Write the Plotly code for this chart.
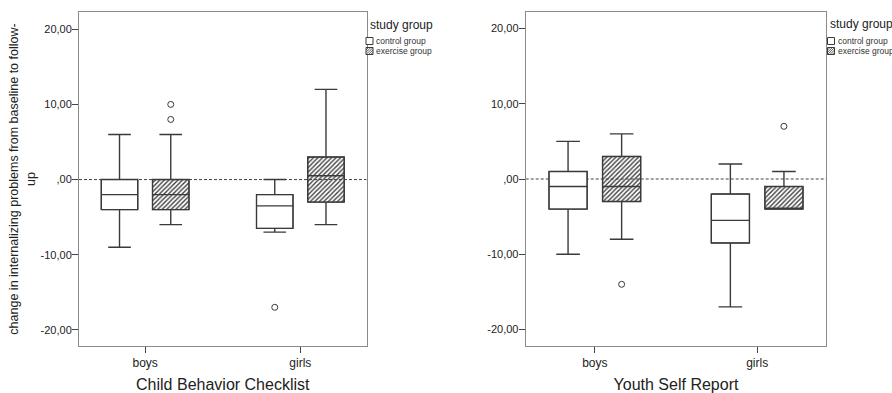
import plotly.graph_objects as go

# ---------------- data ----------------
groups = ["boys", "girls"]
study_groups = ["control group", "exercise group"]
legend_title = "study group"

# Child Behavior Checklist
cbcl_ctrl_lower = [-9, -7]
cbcl_ctrl_q1 = [-4, -6.5]
cbcl_ctrl_median = [-2, -3.5]
cbcl_ctrl_q3 = [0, -2]
cbcl_ctrl_upper = [6, 0]
cbcl_ctrl_out_group = ["girls"]
cbcl_ctrl_out_value = [-17]

cbcl_ex_lower = [-6, -6]
cbcl_ex_q1 = [-4, -3]
cbcl_ex_median = [-2, 0.5]
cbcl_ex_q3 = [0, 3]
cbcl_ex_upper = [6, 12]
cbcl_ex_out_group = ["boys", "boys"]
cbcl_ex_out_value = [10, 8]

# Youth Self Report
ysr_ctrl_lower = [-10, -17]
ysr_ctrl_q1 = [-4, -8.5]
ysr_ctrl_median = [-1, -5.5]
ysr_ctrl_q3 = [1, -2]
ysr_ctrl_upper = [5, 2]
ysr_ctrl_out_group = []
ysr_ctrl_out_value = []

ysr_ex_lower = [-8, -4]
ysr_ex_q1 = [-3, -4]
ysr_ex_median = [-1, -4]
ysr_ex_q3 = [3, -1]
ysr_ex_upper = [6, 1]
ysr_ex_out_group = ["boys", "girls"]
ysr_ex_out_value = [-14, 7]

y_tick_values = [-20, -10, 0, 10, 20]
y_tick_labels = ["-20,00", "-10,00", ",00", "10,00", "20,00"]

panel_titles = ["Child Behavior Checklist", "Youth Self Report"]
y_title = "change in internalizing problems from baseline to follow-<br>up"

# ---------------- styling ----------------
FONT = "Liberation Sans, Arial, sans-serif"
LINE = "#3a3a3a"
FRAME = "#8a8a8a"
TICK = "#444444"
OFFSET = 0.165
BOXW = 0.235
W, H = 892, 393
MT, MB = 12, 47


def pos(cat_list, shift):
    return [groups.index(c) + shift for c in cat_list]


def px_x(px):
    return px / W


def px_y(py):
    return (H - MB - py) / (H - MT - MB)


fig = go.Figure()

panels = [
    dict(ctrl=(cbcl_ctrl_lower, cbcl_ctrl_q1, cbcl_ctrl_median, cbcl_ctrl_q3, cbcl_ctrl_upper,
               cbcl_ctrl_out_group, cbcl_ctrl_out_value),
         ex=(cbcl_ex_lower, cbcl_ex_q1, cbcl_ex_median, cbcl_ex_q3, cbcl_ex_upper,
             cbcl_ex_out_group, cbcl_ex_out_value),
         xa="x", ya="y"),
    dict(ctrl=(ysr_ctrl_lower, ysr_ctrl_q1, ysr_ctrl_median, ysr_ctrl_q3, ysr_ctrl_upper,
               ysr_ctrl_out_group, ysr_ctrl_out_value),
         ex=(ysr_ex_lower, ysr_ex_q1, ysr_ex_median, ysr_ex_q3, ysr_ex_upper,
             ysr_ex_out_group, ysr_ex_out_value),
         xa="x2", ya="y2"),
]

for p in panels:
    for key, shift, name in [("ctrl", -OFFSET, study_groups[0]), ("ex", OFFSET, study_groups[1])]:
        lower, q1, med, q3, upper, og, ov = p[key]
        xs = pos(groups, shift)
        if key == "ctrl":
            marker = dict(color="white", line=dict(color=LINE, width=1))
        else:
            marker = dict(color=LINE, line=dict(color=LINE, width=1),
                          pattern=dict(shape="/", fgcolor=LINE, bgcolor="rgba(0,0,0,0)",
                                       size=3.2, solidity=0.42, fillmode="replace"))
        # box body fill
        fig.add_trace(go.Bar(
            x=xs, y=[b - a for a, b in zip(q1, q3)], base=q1, width=BOXW,
            marker=marker, name=name, showlegend=False,
            xaxis=p["xa"], yaxis=p["ya"], hoverinfo="skip"))
        # box outline, whiskers, median
        fig.add_trace(go.Box(
            x=xs, q1=q1, median=med, q3=q3, lowerfence=lower, upperfence=upper,
            width=BOXW, whiskerwidth=0.62, fillcolor="rgba(0,0,0,0)",
            line=dict(color=LINE, width=1.4), boxpoints=False, showlegend=False,
            xaxis=p["xa"], yaxis=p["ya"], name=name))
        # outliers
        if og:
            fig.add_trace(go.Scatter(
                x=pos(og, shift), y=ov, mode="markers", showlegend=False, name=name,
                marker=dict(symbol="circle-open", size=6, color=LINE, line=dict(width=1)),
                xaxis=p["xa"], yaxis=p["ya"]))

axis_common = dict(showline=True, mirror=True, linecolor=FRAME, linewidth=1,
                   ticks="outside", tickcolor=TICK, ticklen=6, showgrid=False,
                   zeroline=False)

xcommon = dict(axis_common, tickvals=[0, 1], ticktext=groups, range=[-0.426, 1.426],
               tickfont=dict(family=FONT, size=12, color="#222"))
ycommon = dict(axis_common, tickvals=y_tick_values, ticktext=y_tick_labels,
               tickfont=dict(family=FONT, size=11, color="#222"), ticklabelstandoff=-2)

# ---------- manual legends (SPSS style, compact) ----------
shapes = [
    dict(type="line", xref="x domain", yref="y", x0=0, x1=1, y0=0, y1=0,
         line=dict(color="#444", width=1, dash="3px,2px"), layer="below"),
    dict(type="line", xref="x2 domain", yref="y2", x0=0, x1=1, y0=0, y1=0,
         line=dict(color="#444", width=1, dash="3px,2px"), layer="below"),
]
annotations = []

legend_specs = [
    dict(title_x=368, title_y=25, sq_x=366, text_x=374),
    dict(title_x=828, title_y=24, sq_x=827.5, text_x=836),
]
ROW_Y = [37.5, 47.5]
SQ = 7

for spec in legend_specs:
    annotations.append(dict(
        text=legend_title, xref="paper", yref="paper", x=px_x(spec["title_x"]),
        y=px_y(spec["title_y"]), xanchor="left", yanchor="middle", showarrow=False,
        font=dict(family=FONT, size=12, color="#222")))
    for i, name in enumerate(study_groups):
        x0 = spec["sq_x"]
        y0 = ROW_Y[i]
        shapes.append(dict(type="rect", xref="paper", yref="paper",
                           x0=px_x(x0), x1=px_x(x0 + SQ), y0=px_y(y0 + SQ), y1=px_y(y0),
                           line=dict(color=LINE, width=1), fillcolor="white"))
        if i == 1:
            step = 2.3
            d = -SQ + step
            while d < SQ:
                u1 = max(0, -d)
                u2 = min(SQ, SQ - d)
                shapes.append(dict(type="line", xref="paper", yref="paper",
                                   x0=px_x(x0 + u1), y0=px_y(y0 + SQ - (u1 + d)),
                                   x1=px_x(x0 + u2), y1=px_y(y0 + SQ - (u2 + d)),
                                   line=dict(color=LINE, width=0.8)))
                d += step
        annotations.append(dict(
            text=name, xref="paper", yref="paper", x=px_x(spec["text_x"]),
            y=px_y(y0 + SQ / 2), xanchor="left", yanchor="middle", showarrow=False,
            font=dict(family=FONT, size=8.5, color="#333")))

fig.update_layout(
    width=W, height=H,
    margin=dict(l=0, r=0, t=MT, b=MB),
    paper_bgcolor="white", plot_bgcolor="white",
    barmode="overlay", showlegend=False,
    font=dict(family=FONT, color="#222"),
    xaxis=dict(xcommon, domain=[79 / W, 366.5 / W], anchor="y",
               title=dict(text=panel_titles[0], font=dict(size=16), standoff=10)),
    yaxis=dict(ycommon, domain=[0, 1], anchor="x", range=[-22.15, 22.3],
               title=dict(text=y_title, font=dict(size=12.5), standoff=2)),
    xaxis2=dict(xcommon, domain=[525.7 / W, 826.3 / W], anchor="y2",
                title=dict(text=panel_titles[1], font=dict(size=16), standoff=10)),
    yaxis2=dict(ycommon, domain=[0, 1], anchor="x2", range=[-22.2, 22.2]),
    shapes=shapes,
    annotations=annotations,
)

fig.write_html("out.html",
               config={"displayModeBar": False},
               post_script="document.body.style.margin='0';document.body.style.overflow='hidden';")
